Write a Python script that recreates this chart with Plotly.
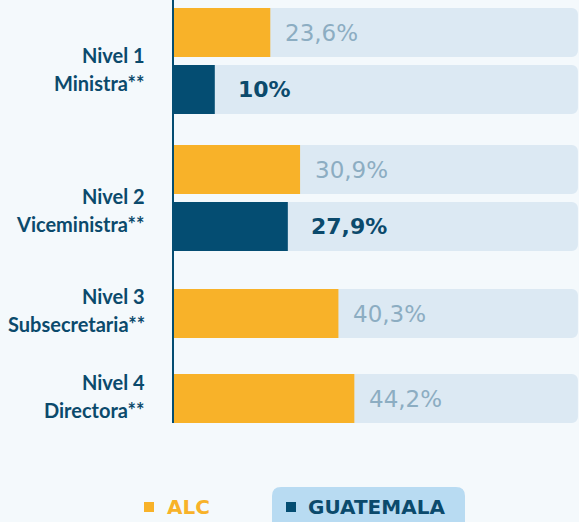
import plotly.graph_objects as go

# ---- data ----
level_line1 = ["Nivel 1", "Nivel 2", "Nivel 3", "Nivel 4"]
level_line2 = ["Ministra**", "Viceministra**", "Subsecretaria**", "Directora**"]
alc_values = [23.6, 30.9, 40.3, 44.2]
gua_values = [10.0, 27.9, None, None]
alc_labels = ["23,6%", "30,9%", "40,3%", "44,2%"]
gua_labels = ["10%", "27,9%", None, None]
series_names = ["ALC", "GUATEMALA"]

# ---- styling / layout ----
ORANGE = "#f8b229"
NAVY = "#044d72"
TEXT_NAVY = "#0b4a6c"
TRACK = "#dce9f3"
BG = "#f4f9fc"
LIGHT_LBL = "#8cadc2"
CAT_FONT = "Lato"
VAL_FONT = "DejaVu Sans"

W, H = 579, 522
ML, MR, MT, MB = 174, 0, 0, 99
PW, PH = W - ML - MR, H - MT - MB
px_per_unit = 4.08
x_max = PW / px_per_unit
track_len = 99.0

level_center = [61, 198, 313.5, 398.5]
label_center = [69, 210, 310, 396]
pair_off = 28.5
bar_w = 49

alc_y, gua_y = [], []
for i in range(len(alc_values)):
    if gua_values[i] is not None:
        alc_y.append(level_center[i] - pair_off)
        gua_y.append(level_center[i] + pair_off)
    else:
        alc_y.append(level_center[i])
        gua_y.append(None)

gua_x = [v for v in gua_values if v is not None]
gua_yy = [y for y, v in zip(gua_y, gua_values) if v is not None]
all_y = alc_y + gua_yy

fig = go.Figure()
fig.add_trace(go.Bar(x=[track_len] * len(all_y), y=all_y, orientation="h", width=bar_w,
                     marker=dict(color=TRACK, cornerradius=6, line_width=0),
                     showlegend=False, hoverinfo="skip"))
fig.add_trace(go.Bar(x=alc_values, y=alc_y, orientation="h", width=bar_w, name=series_names[0],
                     marker=dict(color=ORANGE, line_width=0), showlegend=False))
fig.add_trace(go.Bar(x=gua_x, y=gua_yy, orientation="h", width=bar_w, name=series_names[1],
                     marker=dict(color=NAVY, line_width=0), showlegend=False))

ann = []
for v, y, t in zip(alc_values, alc_y, alc_labels):
    ann.append(dict(x=v, y=y, xref="x", yref="y", text=t, showarrow=False,
                    xanchor="left", yanchor="middle", xshift=13,
                    font=dict(family=VAL_FONT, size=23, color=LIGHT_LBL)))
for v, y, t in zip(gua_values, gua_y, gua_labels):
    if v is None:
        continue
    ann.append(dict(x=v, y=y, xref="x", yref="y", text="<b>" + t + "</b>", showarrow=False,
                    xanchor="left", yanchor="middle", xshift=21,
                    font=dict(family=VAL_FONT, size=22, color=TEXT_NAVY)))
for l1, l2, c in zip(level_line1, level_line2, label_center):
    for txt, yy in ((l1, c - 14), (l2, c + 14)):
        ann.append(dict(x=0, y=yy, xref="x", yref="y", text="<b>" + txt + "</b>", showarrow=False,
                        xanchor="right", yanchor="middle", xshift=-27,
                        font=dict(family=CAT_FONT, size=20, color=TEXT_NAVY)))


def xp(px):
    return (px - ML) / PW


def yp(py):
    return (PH + MT - py) / PH


shapes = []
# highlighted legend box for GUATEMALA
x0, x1 = xp(272), xp(465)
yt, yb = yp(487), yp(540)
rx, ry = 9 / PW, 9 / PH
path = (f"M {x0},{yb} L {x0},{yt - ry} Q {x0},{yt} {x0 + rx},{yt} "
        f"L {x1 - rx},{yt} Q {x1},{yt} {x1},{yt - ry} L {x1},{yb} Z")
shapes.append(dict(type="path", path=path, xref="paper", yref="paper",
                   fillcolor="#b8dbf2", line_width=0, layer="below"))
# legend markers
for (a, b), col in (((144, 154), ORANGE), ((286, 296), NAVY)):
    shapes.append(dict(type="rect", xref="paper", yref="paper",
                       x0=xp(a), x1=xp(b), y0=yp(512), y1=yp(502),
                       fillcolor=col, line_width=0))
ann.append(dict(x=xp(165), y=yp(507), xref="paper", yref="paper", text="<b>" + series_names[0] + "</b>",
                showarrow=False, xanchor="left", yanchor="middle",
                font=dict(family=VAL_FONT, size=20, color=ORANGE)))
ann.append(dict(x=xp(306), y=yp(507), xref="paper", yref="paper", text="<b>" + series_names[1] + "</b>",
                showarrow=False, xanchor="left", yanchor="middle",
                font=dict(family=VAL_FONT, size=20, color=TEXT_NAVY)))

fig.update_layout(
    width=W, height=H, margin=dict(l=ML, r=MR, t=MT, b=MB, pad=0),
    paper_bgcolor=BG, plot_bgcolor=BG, barmode="overlay",
    xaxis=dict(range=[0, x_max], visible=False, fixedrange=True),
    yaxis=dict(range=[PH, 0], showgrid=False, zeroline=False, showticklabels=False,
               ticks="", showline=True, linecolor=NAVY, linewidth=2, fixedrange=True),
    annotations=ann, shapes=shapes, showlegend=False,
)

fig.write_html(
    "out.html",
    config={"displayModeBar": False},
    post_script="document.body.style.margin='0';document.body.style.overflow='hidden';"
                "document.body.style.background='" + BG + "';",
)
